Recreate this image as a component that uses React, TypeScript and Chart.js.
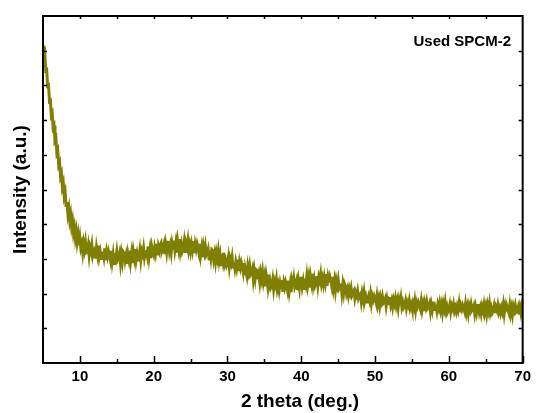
import React, { useEffect, useRef } from "react";
import { Chart, registerables } from "chart.js";

Chart.register(...registerables);

// 2θ grid: start and step (degrees)
const thetaStart = 5;
const thetaStep = 0.125;

// Intensity (a.u.), 8 values per degree (0.125° apart)
const intensity: number[] = [
  // 5 - 9
  9.14, 8.82, 8.90, 8.43, 8.45, 7.99, 8.01, 7.55,
  7.57, 7.14, 7.20, 6.78, 6.84, 6.42, 6.48, 6.06,
  6.13, 5.71, 5.78, 5.38, 5.46, 5.08, 5.19, 4.81,
  4.92, 4.54, 4.64, 4.30, 4.45, 4.12, 4.27, 3.94,
  4.09, 3.76, 3.91, 3.61, 3.79, 3.49, 3.68, 3.39,
  // 10 - 19
  3.60, 3.32, 3.43, 3.19, 3.44, 3.27, 3.47, 3.18,
  3.20, 3.38, 3.10, 3.33, 3.22, 3.40, 3.12, 3.25,
  3.29, 3.01, 3.32, 3.14, 3.38, 3.06, 3.20, 3.01,
  3.01, 3.21, 3.05, 3.30, 2.96, 3.21, 3.07, 3.22,
  3.11, 2.97, 3.23, 2.93, 3.13, 2.87, 3.17, 3.03,
  3.22, 2.98, 3.04, 3.16, 2.88, 3.13, 2.93, 3.20,
  3.16, 2.95, 3.09, 2.86, 3.15, 3.00, 3.24, 2.93,
  3.15, 2.88, 3.20, 3.03, 3.28, 2.97, 3.14, 2.97,
  3.06, 3.25, 2.98, 3.22, 3.13, 3.31, 3.05, 3.20,
  3.21, 3.08, 3.36, 3.06, 3.27, 3.02, 3.34, 3.20,
  // 20 - 29
  3.11, 3.32, 3.17, 3.43, 3.10, 3.36, 3.24, 3.40,
  3.46, 3.22, 3.29, 3.41, 3.14, 3.40, 3.20, 3.48,
  3.47, 3.23, 3.38, 3.18, 3.45, 3.31, 3.53, 3.26,
  3.45, 3.18, 3.50, 3.31, 3.57, 3.24, 3.41, 3.22,
  3.31, 3.50, 3.21, 3.45, 3.35, 3.53, 3.25, 3.40,
  3.22, 3.42, 3.26, 3.51, 3.17, 3.42, 3.28, 3.43,
  3.31, 3.17, 3.43, 3.12, 3.31, 3.05, 3.35, 3.19,
  3.37, 3.12, 3.18, 3.28, 3.00, 3.24, 3.03, 3.27,
  3.24, 2.99, 3.14, 2.92, 3.17, 3.02, 3.22, 2.95,
  3.11, 2.83, 3.14, 2.95, 3.18, 2.85, 2.95, 2.81,
  // 30 - 39
  2.88, 3.05, 2.77, 2.99, 2.88, 3.05, 2.77, 2.89,
  2.72, 2.91, 2.75, 2.98, 2.65, 2.90, 2.75, 2.89,
  2.77, 2.62, 2.88, 2.57, 2.63, 2.50, 2.79, 2.63,
  2.80, 2.55, 2.60, 2.71, 2.42, 2.66, 2.45, 2.69,
  2.66, 2.41, 2.55, 2.33, 2.58, 2.42, 2.62, 2.34,
  2.49, 2.21, 2.51, 2.32, 2.55, 2.23, 2.36, 2.17,
  2.23, 2.40, 2.13, 2.35, 2.25, 2.42, 2.13, 2.26,
  2.09, 2.29, 2.14, 2.39, 2.05, 2.31, 2.18, 2.34,
  2.24, 2.10, 2.37, 2.08, 2.28, 2.04, 2.36, 2.22,
  2.42, 2.18, 2.25, 2.37, 2.10, 2.36, 2.17, 2.44,
  // 40 - 49
  2.44, 2.20, 2.36, 2.15, 2.43, 2.28, 2.51, 2.25,
  2.44, 2.17, 2.49, 2.32, 2.57, 2.25, 2.42, 2.24,
  2.33, 2.51, 2.24, 2.48, 2.38, 2.56, 2.29, 2.43,
  2.27, 2.47, 2.31, 2.56, 2.22, 2.47, 2.33, 2.48,
  2.37, 2.22, 2.48, 2.17, 2.36, 2.11, 2.37, 2.23,
  2.39, 2.14, 2.19, 2.29, 2.01, 2.25, 2.04, 2.28,
  2.21, 2.01, 2.12, 1.95, 2.14, 2.02, 2.16, 1.95,
  1.95, 2.08, 1.87, 2.03, 1.95, 2.08, 1.87, 1.95,
  1.99, 1.78, 2.01, 1.86, 2.04, 1.80, 1.91, 1.76,
  1.76, 1.91, 1.80, 1.98, 1.73, 1.92, 1.82, 1.93,
  // 50 - 59
  1.84, 1.74, 1.93, 1.70, 1.85, 1.66, 1.89, 1.77,
  1.91, 1.73, 1.77, 1.85, 1.64, 1.83, 1.67, 1.87,
  1.86, 1.67, 1.79, 1.62, 1.82, 1.71, 1.86, 1.66,
  1.79, 1.59, 1.81, 1.67, 1.86, 1.62, 1.74, 1.59,
  1.64, 1.78, 1.58, 1.74, 1.66, 1.80, 1.59, 1.69,
  1.57, 1.72, 1.61, 1.79, 1.54, 1.74, 1.64, 1.75,
  1.67, 1.57, 1.77, 1.53, 1.69, 1.50, 1.73, 1.61,
  1.76, 1.58, 1.62, 1.71, 1.49, 1.68, 1.53, 1.73,
  1.73, 1.54, 1.66, 1.50, 1.69, 1.58, 1.73, 1.53,
  1.67, 1.47, 1.70, 1.56, 1.75, 1.51, 1.62, 1.48,
  // 60 - 70
  1.54, 1.68, 1.48, 1.65, 1.57, 1.70, 1.50, 1.60,
  1.48, 1.63, 1.52, 1.71, 1.46, 1.65, 1.55, 1.67,
  1.59, 1.49, 1.69, 1.46, 1.61, 1.43, 1.65, 1.54,
  1.69, 1.51, 1.55, 1.64, 1.43, 1.61, 1.46, 1.66,
  1.66, 1.47, 1.59, 1.43, 1.63, 1.52, 1.68, 1.48,
  1.62, 1.42, 1.65, 1.51, 1.70, 1.46, 1.58, 1.44,
  1.50, 1.64, 1.44, 1.61, 1.53, 1.67, 1.47, 1.57,
  1.44, 1.59, 1.48, 1.67, 1.42, 1.62, 1.52, 1.64,
  1.56, 1.46, 1.66, 1.43, 1.59, 1.40, 1.63, 1.52,
  1.66, 1.48, 1.52, 1.61, 1.40, 1.59, 1.44, 1.64,
  1.53,
];

const xMajorTicks = [10, 20, 30, 40, 50, 60, 70];
const xMinorTicks = [15, 25, 35, 45, 55, 65];
const xTopTicks = [10, 15, 20, 25, 30, 35, 40, 45, 50, 55, 60, 65];
const yTicks = [1, 2, 3, 4, 5, 6, 7, 8, 9];

const xTitle = "2 theta (deg.)";
const yTitle = "Intensity (a.u.)";
const seriesLabel = "Used SPCM-2";

const FONT = "'Liberation Sans', Arial, sans-serif";
const LINE_COLOR = "#808000";

export default function App() {
  const ref = useRef<HTMLCanvasElement | null>(null);

  useEffect(() => {
    if (!ref.current) return;
    const points = intensity.map((v, i) => ({ x: thetaStart + i * thetaStep, y: v }));

    const framePlugin = {
      id: "frame",
      afterDraw(chart: any) {
        const { ctx, chartArea } = chart;
        const xs = chart.scales.x;
        const ys = chart.scales.y;
        const { left, right, top, bottom } = chartArea;
        ctx.save();
        ctx.strokeStyle = "#000";
        ctx.lineWidth = 2;
        ctx.strokeRect(left, top, right - left, bottom - top);
        ctx.lineWidth = 1.5;
        ctx.beginPath();
        xMajorTicks.forEach((v) => {
          const px = Math.round(xs.getPixelForValue(v)) + 0.5;
          ctx.moveTo(px, bottom);
          ctx.lineTo(px, bottom - 7);
        });
        xMinorTicks.forEach((v) => {
          const px = Math.round(xs.getPixelForValue(v)) + 0.5;
          ctx.moveTo(px, bottom);
          ctx.lineTo(px, bottom - 4);
        });
        xTopTicks.forEach((v) => {
          const px = Math.round(xs.getPixelForValue(v)) + 0.5;
          ctx.moveTo(px, top);
          ctx.lineTo(px, top + 3);
        });
        yTicks.forEach((v) => {
          const py = Math.round(ys.getPixelForValue(v)) + 0.5;
          ctx.moveTo(left, py);
          ctx.lineTo(left + 4, py);
          ctx.moveTo(right, py);
          ctx.lineTo(right - 4, py);
        });
        ctx.stroke();

        ctx.fillStyle = "#000";
        ctx.font = `bold 15px ${FONT}`;
        ctx.textAlign = "right";
        ctx.textBaseline = "middle";
        ctx.fillText(seriesLabel, 511, 42);

        ctx.font = `bold 19px ${FONT}`;
        ctx.textAlign = "center";
        ctx.fillText(xTitle, 300, 402);
        ctx.restore();
      },
    };

    const chart = new Chart(ref.current, {
      type: "line",
      data: {
        datasets: [
          {
            label: seriesLabel,
            data: points,
            borderColor: LINE_COLOR,
            backgroundColor: LINE_COLOR,
            borderWidth: 3,
            pointRadius: 0,
            tension: 0,
            fill: false,
          },
        ],
      },
      options: {
        animation: false,
        responsive: false,
        devicePixelRatio: 1,
        layout: { padding: { top: 16, right: 10, left: 0, bottom: 0 } },
        plugins: {
          legend: { display: false },
          tooltip: { enabled: false },
        },
        scales: {
          x: {
            type: "linear",
            min: 5,
            max: 70,
            grid: { display: false, drawTicks: false },
            border: { display: false },
            afterBuildTicks: (s: any) => {
              s.ticks = xMajorTicks.map((v) => ({ value: v }));
            },
            afterFit: (s: any) => {
              s.height = 50;
            },
            ticks: {
              color: "#000",
              padding: 5,
              maxRotation: 0,
              font: { family: FONT, size: 15, weight: "bold" },
            },
          },
          y: {
            type: "linear",
            min: 0,
            max: 10,
            grid: { display: false, drawTicks: false },
            border: { display: false },
            ticks: { display: false },
            afterFit: (s: any) => {
              s.width = 43;
            },
            title: {
              display: true,
              text: yTitle,
              color: "#000",
              padding: { top: 9, bottom: 0 },
              font: { family: FONT, size: 19, weight: "bold" },
            },
          },
        },
      },
      plugins: [framePlugin],
    });
    return () => chart.destroy();
  }, []);

  return (
    <div style={{ position: "fixed", left: 0, top: 0, width: 536, height: 413, background: "#fff" }}>
      <canvas ref={ref} width={536} height={413} />
    </div>
  );
}
